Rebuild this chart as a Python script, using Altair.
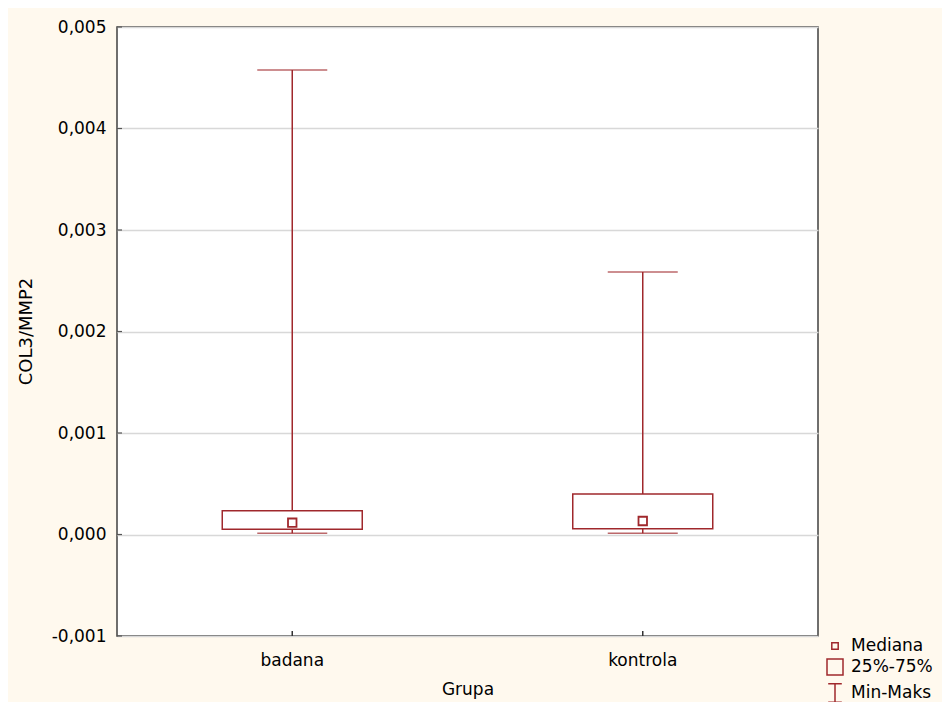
import altair as alt
import pandas as pd

groups = ["badana", "kontrola"]
mins = [0.000012, 0.000012]
q1s = [0.000051, 0.000057]
medians = [0.000116, 0.000133]
q3s = [0.000235, 0.000399]
maxs = [0.004576, 0.002586]

y_ticks = [-0.001, 0.0, 0.001, 0.002, 0.003, 0.004, 0.005]
legend_items = ["Mediana", "25%-75%", "Min-Maks"]
legend_paths = [
    "M-0.4,-0.4L0.4,-0.4L0.4,0.4L-0.4,0.4Z",
    "M-1,-1L1,-1L1,1L-1,1Z",
    "M-0.85,-1.15L0.85,-1.15M0,-1.15L0,1.15M-0.85,1.15L0.85,1.15",
]

RED = "#A0282C"
FONT = "DejaVu Sans"
FS = 17

df = pd.DataFrame({"Grupa": groups, "min": mins, "q1": q1s, "med": medians,
                   "q3": q3s, "max": maxs})
leg = pd.DataFrame({"item": legend_items})
ticks_df = pd.DataFrame({"v": y_ticks})

x = alt.X("Grupa:N", title="Grupa",
          scale=alt.Scale(paddingInner=0, paddingOuter=0),
          axis=alt.Axis(labelAngle=0, tickSize=0, labelPadding=16, domain=False,
                        labelFont=FONT, labelFontSize=FS, labelColor="#000",
                        titleFont=FONT, titleFontSize=FS, titleFontWeight="normal",
                        titleColor="#000", titleY=53, titleBaseline="middle"))
yscale = alt.Scale(domain=[-0.001, 0.005], nice=False, zero=False)

base = alt.Chart(df)

whisker = base.mark_rule(color=RED, strokeWidth=1.5).encode(
    x=x,
    y=alt.Y("min:Q", scale=yscale, title="COL3/MMP2",
            axis=alt.Axis(values=y_ticks, tickSize=0, labelPadding=11, domain=False,
                          grid=True, gridColor="#D8D8D8", gridWidth=1.5,
                          labelExpr="replace(replace(format(datum.value, '.3f'), '.', ','), '\u2212', '-')",
                          labelFont=FONT, labelFontSize=FS, labelColor="#000",
                          titleFont=FONT, titleFontSize=FS + 1, titleFontWeight="normal",
                          titleColor="#000", titleX=-91, titleY=304,
                          titleBaseline="middle", titleAlign="center")),
    y2="max:Q",
)

caps_min = base.mark_tick(color=RED, size=70, thickness=1.5).encode(x=x, y=alt.Y("min:Q", scale=yscale))
caps_max = base.mark_tick(color=RED, size=70, thickness=1.5).encode(x=x, y=alt.Y("max:Q", scale=yscale))

box = base.mark_bar(fill="white", stroke=RED, strokeWidth=1.5, size=140).encode(
    x=x, y=alt.Y("q1:Q", scale=yscale), y2="q3:Q")

med = base.mark_square(fill="white", stroke=RED, strokeWidth=1.8, size=72, opacity=1).encode(
    x=x, y=alt.Y("med:Q", scale=yscale))

xticks = base.mark_rule(color="#333", strokeWidth=1.5).encode(
    x=x, y=alt.value(609), y2=alt.value(604))

yticks = alt.Chart(ticks_df).mark_rule(color="#555", strokeWidth=1.2).encode(
    y=alt.Y("v:Q", scale=yscale), x=alt.value(0), x2=alt.value(5))

legend_layer = alt.Chart(leg).mark_point(filled=False, opacity=0).encode(
    x=alt.value(0), y=alt.value(0),
    shape=alt.Shape("item:N",
                    scale=alt.Scale(domain=legend_items, range=legend_paths),
                    legend=alt.Legend(title=None, orient="none", legendX=709, legendY=610,
                                      symbolSize=256, symbolStrokeColor=RED,
                                      symbolStrokeWidth=1.5, symbolFillColor="transparent",
                                      symbolOpacity=1, labelFont=FONT, labelFontSize=FS,
                                      labelColor="#000", labelOffset=7, rowPadding=2,
                                      padding=0)),
)

chart = alt.layer(whisker, yticks, caps_min, caps_max, box, med, xticks, legend_layer).properties(
    width=701, height=609,
    background="#FFF9EE",
    autosize=alt.AutoSizeParams(type="none"),
    padding={"left": 109, "top": 19, "right": 124, "bottom": 66},
).configure_view(fill="white", stroke="#404040", strokeWidth=1.5)

chart.save("out.html", embed_options={"renderer": "svg", "actions": False})
